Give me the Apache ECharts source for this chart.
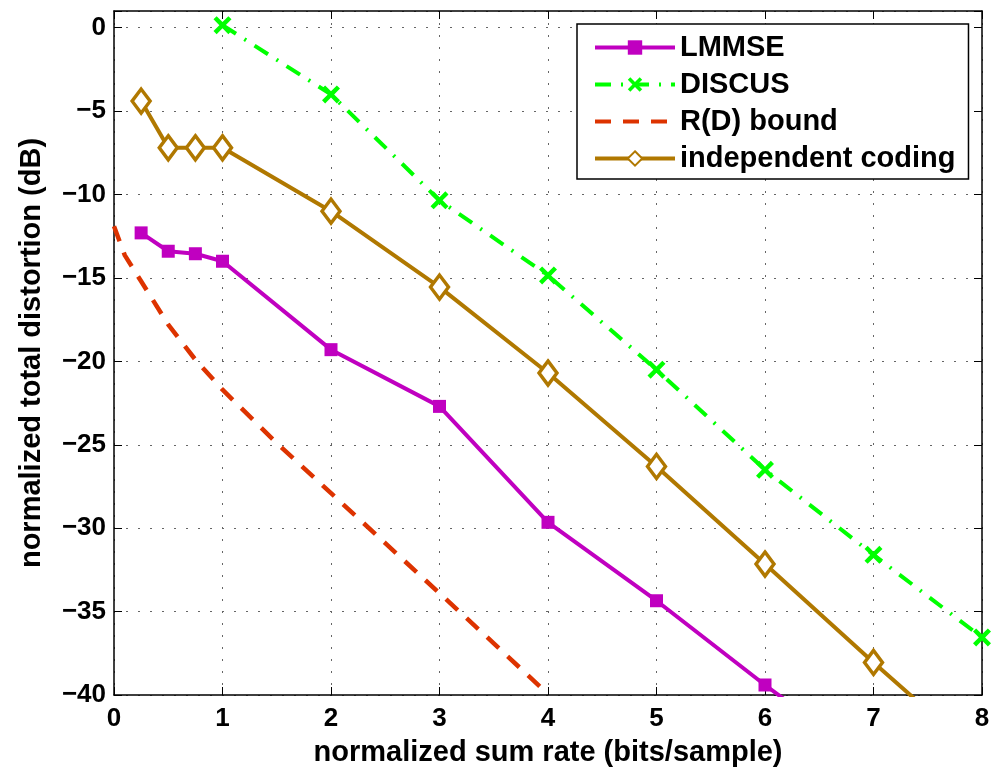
<!DOCTYPE html>
<html>
<head>
<meta charset="utf-8">
<script src="https://cdn.jsdelivr.net/npm/echarts@6/dist/echarts.min.js"></script>
<style>
  html, body { margin: 0; padding: 0; background: #fff; }
  #chart { width: 994px; height: 773px; }
</style>
</head>
<body>
<div id="chart"></div>
<script>
// values
var lmmseX = [0.25, 0.5, 0.75, 1, 2, 3, 4, 5, 6, 7];
var lmmseY = [-12.3, -13.4, -13.55, -14.0, -19.3, -22.7, -29.65, -34.35, -39.4, -44.2];

var discusX = [1, 2, 3, 4, 5, 6, 7, 8];
var discusY = [0.15, -4.0, -10.35, -14.85, -20.5, -26.5, -31.6, -36.55];

var boundX = [0, 0.1, 0.25, 0.5, 0.75, 1, 1.5, 2, 2.5, 3, 3.5, 4];
var boundY = [-11.9, -13.65, -15.2, -17.8, -19.9, -21.7, -24.9, -27.9, -30.9, -33.9, -36.9, -39.95];

var indepX = [0.25, 0.5, 0.75, 1, 2, 3, 4, 5, 6, 7, 8];
var indepY = [-4.4, -7.2, -7.2, -7.2, -11.0, -15.55, -20.7, -26.3, -32.15, -38.05, -43.8];

var names = ['LMMSE', 'DISCUS', 'R(D) bound', 'independent coding'];

function pairs(xs, ys) {
    var out = [];
    for (var i = 0; i < xs.length; i++) out.push([xs[i], ys[i]]);
    return out;
}

var font = '"Liberation Sans", Arial, Helvetica, sans-serif';
var crossPath = 'path://M0,3.5 L3.5,0 L10,6.5 L16.5,0 L20,3.5 L13.5,10 L20,16.5 L16.5,20 L10,13.5 L3.5,20 L0,16.5 L6.5,10 Z';

var myChart = echarts.init(document.getElementById('chart'));

var gridLine = { show: true, lineStyle: { color: '#666', width: 1, type: [2, 10] } };

var option = {
    backgroundColor: '#fff',
    animation: false,
    grid: { left: 114, top: 11, right: 12, bottom: 78, containLabel: false },
    legend: {
        orient: 'vertical',
        left: 577,
        top: 24,
        data: names,
        backgroundColor: '#fff',
        borderColor: '#000',
        borderWidth: 1.5,
        borderRadius: 0,
        padding: [9, 13, 6, 16],
        itemWidth: 80,
        itemHeight: 18,
        itemGap: 8,
        lineStyle: { width: 4 },
        textStyle: { fontFamily: font, fontWeight: 'bold', fontSize: 29, color: '#000' }
    },
    xAxis: [
        {
            type: 'value', min: 0, max: 8, interval: 1,
            name: 'normalized sum rate (bits/sample)',
            nameLocation: 'middle', nameGap: 43,
            nameTextStyle: { fontFamily: font, fontWeight: 'bold', fontSize: 29, color: '#000' },
            axisLine: { show: true, onZero: false, lineStyle: { color: '#000', width: 1.5 } },
            axisTick: { show: true, inside: true, length: 8, lineStyle: { color: '#000' } },
            axisLabel: { margin: 11, fontFamily: font, fontWeight: 'bold', fontSize: 26, color: '#000' },
            splitLine: gridLine
        },
        {
            type: 'value', position: 'top', min: 0, max: 8, interval: 1,
            axisLine: { show: true, onZero: false, lineStyle: { color: '#000', width: 1.5 } },
            axisTick: { show: true, inside: true, length: 8, lineStyle: { color: '#000' } },
            axisLabel: { show: false },
            splitLine: { show: false }
        }
    ],
    yAxis: [
        {
            type: 'value', min: -40, max: 1, interval: 5,
            name: 'normalized total distortion (dB)',
            nameLocation: 'middle', nameGap: 68,
            nameTextStyle: { fontFamily: font, fontWeight: 'bold', fontSize: 29, color: '#000' },
            axisLine: { show: true, onZero: false, lineStyle: { color: '#000', width: 1.5 } },
            axisTick: { show: true, inside: true, length: 8, lineStyle: { color: '#000' } },
            axisLabel: {
                margin: 8, fontFamily: font, fontWeight: 'bold', fontSize: 26, color: '#000',
                formatter: function (v) {
                    if (v % 5 !== 0) return '';
                    return String(v).replace('-', '\u2212');
                }
            },
            splitLine: gridLine
        },
        {
            type: 'value', position: 'right', min: -40, max: 1, interval: 5,
            axisLine: { show: true, onZero: false, lineStyle: { color: '#000', width: 1.5 } },
            axisTick: { show: true, inside: true, length: 8, lineStyle: { color: '#000' } },
            axisLabel: { show: false },
            splitLine: { show: false }
        }
    ],
    series: [
        {
            name: names[0], type: 'line', data: pairs(lmmseX, lmmseY),
            symbol: 'rect', symbolSize: 13, clip: true,
            lineStyle: { color: '#C000C0', width: 4 },
            itemStyle: { color: '#C000C0' }
        },
        {
            name: names[1], type: 'line', data: pairs(discusX, discusY),
            symbol: crossPath, symbolSize: 18, clip: true,
            lineStyle: { color: '#00FF00', width: 4, type: [16, 10, 2, 10] },
            itemStyle: { color: '#00FF00' }
        },
        {
            name: names[2], type: 'line', data: pairs(boundX, boundY),
            symbol: 'circle', showSymbol: false, clip: true,
            lineStyle: { color: '#DD3300', width: 4.5, type: [16, 12] },
            itemStyle: { color: 'rgba(0,0,0,0)', borderWidth: 0 }
        },
        {
            name: names[3], type: 'line', data: pairs(indepX, indepY),
            symbol: 'diamond', symbolSize: [18, 24], clip: true,
            lineStyle: { color: '#B07800', width: 4 },
            itemStyle: { color: '#fff', borderColor: '#B07800', borderWidth: 3.5 }
        }
    ]
};

myChart.setOption(option);
</script>
</body>
</html>
